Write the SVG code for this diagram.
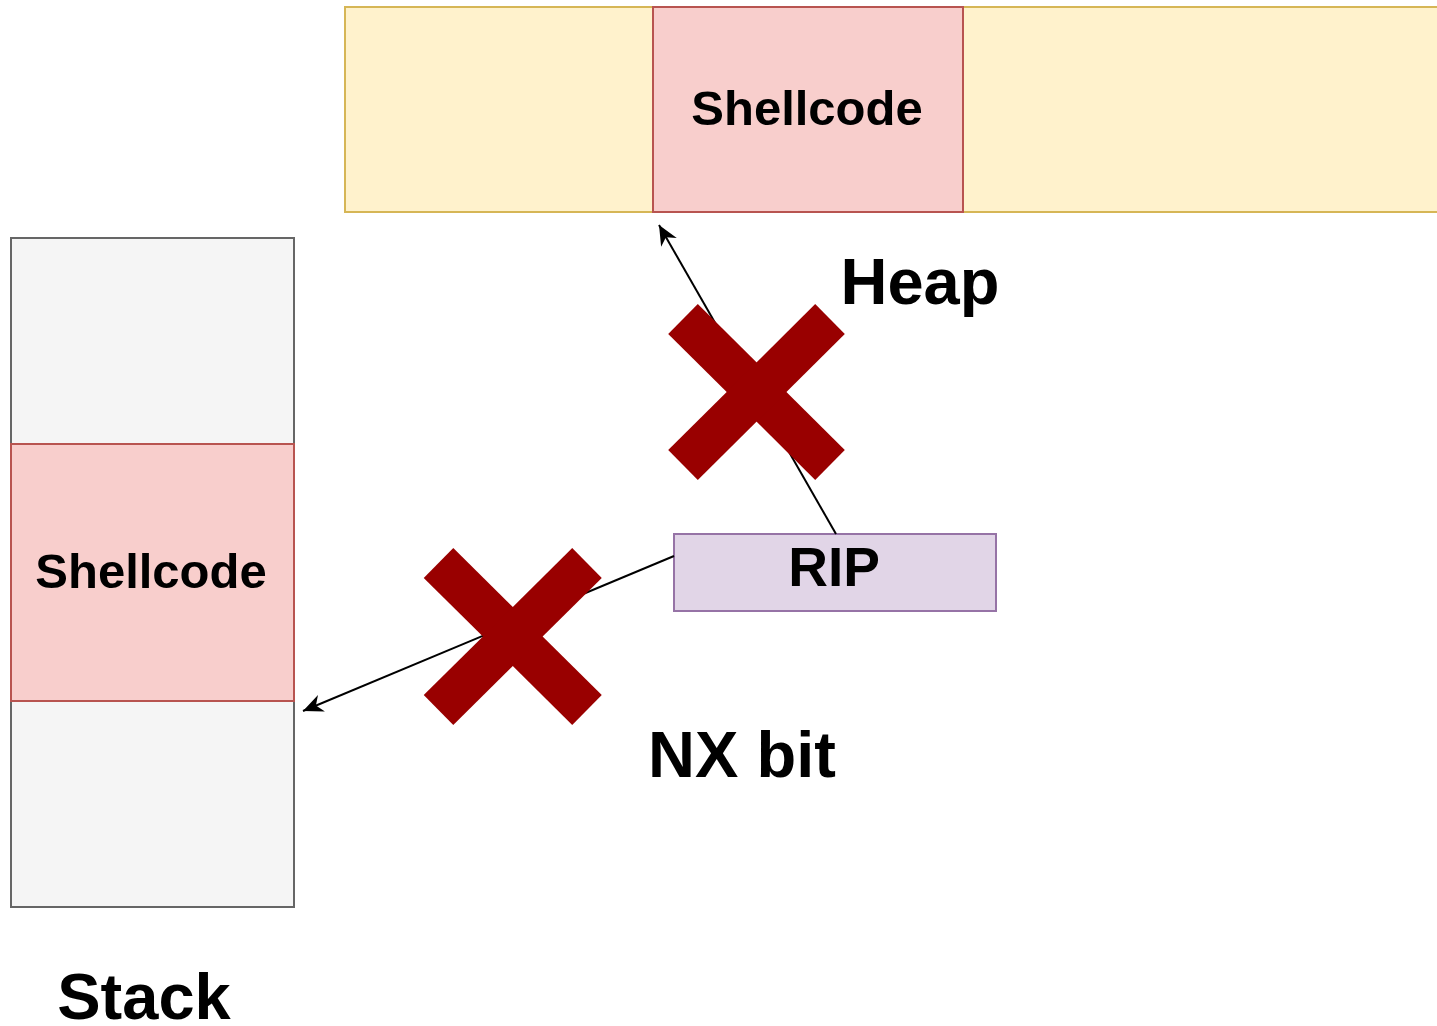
<svg xmlns="http://www.w3.org/2000/svg" width="1437" height="1026" viewBox="0 0 1437 1026">
  <style>
    .lbl { font-family: "Liberation Sans", Arial, sans-serif; font-weight: bold; fill: #000000; text-anchor: middle; }
    .stack { fill: #f5f5f5; stroke: #666666; stroke-width: 2; }
    .shell { fill: #f8cecc; stroke: #b85450; stroke-width: 2; }
    .heap { fill: #fff2cc; stroke: #d6b656; stroke-width: 2; }
    .rip { fill: #e1d5e7; stroke: #9673a6; stroke-width: 2; }
    .edge { fill: none; stroke: #000000; stroke-width: 2; }
    .cross { stroke: #990000; stroke-width: 42; stroke-linecap: butt; }
  </style>
  <defs>
    <marker id="arrow" markerUnits="userSpaceOnUse" markerWidth="22" markerHeight="18" viewBox="0 0 22 18" refX="20" refY="9" orient="auto">
      <path d="M0,0 L20,9 L0,18 L6,9 Z" fill="#000000"/>
    </marker>
  </defs>

  <rect width="1437" height="1026" fill="#ffffff"/>

  <!-- heap region -->
  <g id="heap">
    <rect class="heap" x="345" y="7" width="1110" height="205"/>
  </g>
  <g id="heap-shellcode">
    <rect class="shell" x="653" y="7" width="310" height="205"/>
    <text class="lbl" x="807" y="125" font-size="49">Shellcode</text>
  </g>
  <g id="heap-label">
    <text class="lbl" x="920" y="304" font-size="65">Heap</text>
  </g>

  <!-- stack region -->
  <g id="stack">
    <rect class="stack" x="11" y="238" width="283" height="669"/>
  </g>
  <g id="stack-shellcode">
    <rect class="shell" x="11" y="444" width="283" height="257"/>
    <text class="lbl" x="151" y="588" font-size="49">Shellcode</text>
  </g>
  <g id="stack-label">
    <text class="lbl" x="144" y="1019" font-size="65">Stack</text>
  </g>

  <!-- instruction pointer -->
  <g id="rip">
    <rect class="rip" x="674" y="534" width="322" height="77"/>
    <text class="lbl" x="834" y="586" font-size="55">RIP</text>
  </g>

  <g id="nx-label">
    <text class="lbl" x="742" y="777" font-size="65">NX bit</text>
  </g>

  <!-- connectors -->
  <g id="connectors">
    <line class="edge" x1="836" y1="534" x2="659" y2="225" marker-end="url(#arrow)"/>
    <line class="edge" x1="674" y1="556" x2="303" y2="711" marker-end="url(#arrow)"/>
  </g>

  <!-- blocked-path crosses -->
  <g id="cross-heap">
    <line class="cross" x1="683" y1="319" x2="830" y2="465"/>
    <line class="cross" x1="830" y1="319" x2="683" y2="465"/>
  </g>
  <g id="cross-stack">
    <line class="cross" x1="438.5" y1="563" x2="587" y2="710"/>
    <line class="cross" x1="587" y1="563" x2="438.5" y2="710"/>
  </g>
</svg>
